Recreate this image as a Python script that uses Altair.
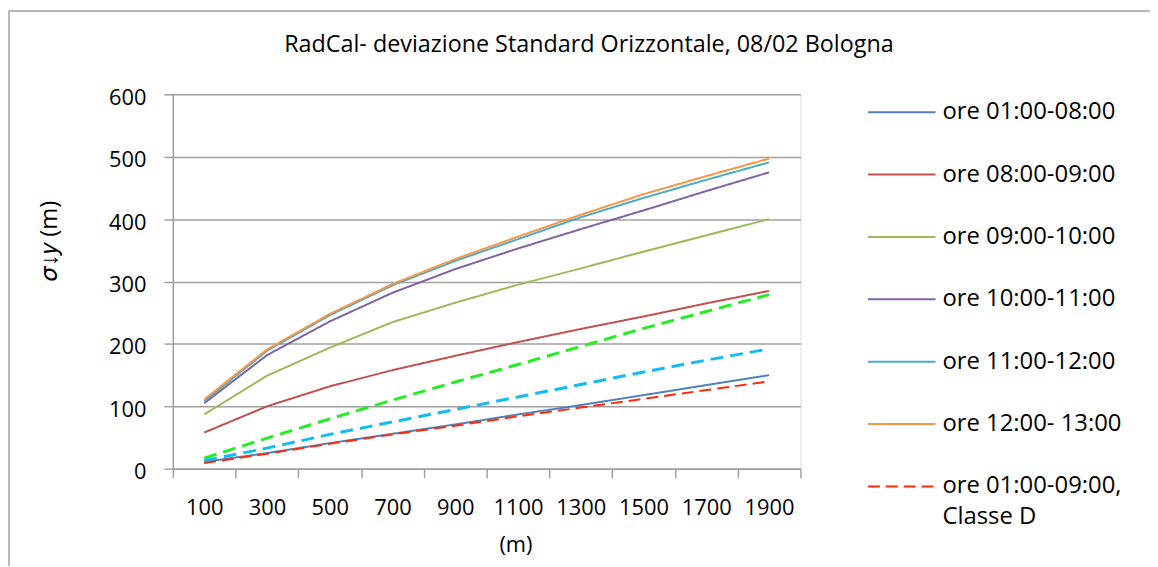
import altair as alt
import pandas as pd

# ---- data ----
distances = [100, 300, 500, 700, 900, 1100, 1300, 1500, 1700, 1900]

series_names = [
    "ore 01:00-08:00",
    "ore 08:00-09:00",
    "ore 09:00-10:00",
    "ore 10:00-11:00",
    "ore 11:00-12:00",
    "ore 12:00- 13:00",
    "ore 01:00-09:00, Classe D",
]
s_01_08 = [11, 25, 41, 56, 71, 87, 102, 118, 134, 150]
s_08_09 = [58, 100, 132, 158, 181, 203, 224, 244, 265, 285]
s_09_10 = [87, 149, 194, 235, 266, 295, 321, 348, 374, 400]
s_10_11 = [105, 182, 236, 282, 320, 353, 384, 414, 445, 475]
s_11_12 = [108, 189, 246, 294, 333, 368, 403, 434, 463, 491]
s_12_13 = [111, 191, 248, 296, 336, 372, 407, 440, 469, 497]
s_classe_d = [9, 24, 40, 55, 69, 84, 98, 112, 126, 140]

# dashed reference curves without legend entry
green_dashed = [17, 49, 80, 110, 139, 167, 196, 225, 252, 279]
cyan_dashed = [13, 33, 55, 75, 95, 115, 135, 155, 174, 192]

series_values = [s_01_08, s_08_09, s_09_10, s_10_11, s_11_12, s_12_13, s_classe_d]
series_colors = ["#4F81BD", "#C0504D", "#9BBB59", "#8064A2", "#4BACC6", "#F79646", "#FF2A0A"]

rows = []
for name, vals in zip(series_names, series_values):
    for d, v in zip(distances, vals):
        rows.append({"dist": d, "val": v, "series": name})
df_main = pd.DataFrame(rows)
df_green = pd.DataFrame({"dist": distances, "val": green_dashed})
df_cyan = pd.DataFrame({"dist": distances, "val": cyan_dashed})
df_frame = pd.DataFrame({"k": [0]})

FONT = "Open Sans"
GRAY = "#a0a0a0"

x_scale = alt.Scale(type="band", domain=distances, paddingInner=0, paddingOuter=0)

x_enc = alt.X(
    "dist:O",
    scale=x_scale,
    axis=alt.Axis(
        labelAngle=0,
        labelFont=FONT,
        labelFontSize=22,
        labelColor="#000000",
        labelPadding=20,
        tickSize=9,
        tickWidth=1.5,
        tickColor=GRAY,
        tickBand="extent",
        tickExtra=True,
        domainColor=GRAY,
        domainWidth=1.5,
        grid=False,
        title="(m)",
        titleFont=FONT,
        titleFontSize=22,
        titleFontWeight="normal",
        titleColor="#000000",
        titleX=345,
        titleY=76,
        titleAlign="center",
        titleBaseline="middle",
    ),
)

y_enc = alt.Y(
    "val:Q",
    scale=alt.Scale(domain=[0, 600], nice=False),
    axis=alt.Axis(
        values=[0, 100, 200, 300, 400, 500, 600],
        labelFont=FONT,
        labelFontSize=22,
        labelColor="#000000",
        labelPadding=18,
        labelOffset=3,
        tickSize=9,
        tickWidth=1.5,
        tickColor=GRAY,
        domainColor=GRAY,
        domainWidth=1.5,
        grid=True,
        gridColor=GRAY,
        gridWidth=1.5,
        title="𝜎↓𝑦 (m)",
        titleFont=FONT,
        titleFontSize=24,
        titleFontWeight="normal",
        titleColor="#000000",
        titleX=-124,
        titleY=147,
        titleAngle=-90,
        titleAlign="center",
        titleBaseline="middle",
    ),
)

legend = alt.Legend(
    orient="none",
    legendX=699,
    legendY=-17,
    padding=0,
    labelFont=FONT,
    labelFontSize=24,
    labelColor="#000000",
    labelLimit=400,
    labelOffset=6,
    labelBaseline="middle",
    labelExpr="datum.label === 'ore 01:00-09:00, Classe D' ? ['ore 01:00-09:00,', 'Classe D'] : datum.label",
    symbolType="stroke",
    symbolSize=4624,
    symbolStrokeWidth=2,
    rowPadding=15.8,
)

main = alt.Chart(df_main).mark_line().encode(
    x=x_enc,
    y=y_enc,
    color=alt.Color(
        "series:N",
        scale=alt.Scale(domain=series_names, range=series_colors),
        legend=legend,
        title=None,
    ),
    strokeDash=alt.StrokeDash(
        "series:N",
        scale=alt.Scale(domain=series_names, range=[[1, 0]] * 6 + [[12, 6]]),
        legend=legend,
        title=None,
    ),
    strokeWidth=alt.StrokeWidth(
        "series:N",
        scale=alt.Scale(domain=series_names, range=[2, 2, 2, 2, 2, 2, 3]),
        legend=None,
    ),
)

green = alt.Chart(df_green).mark_line(color="#22EE22", strokeWidth=3, strokeDash=[13, 7]).encode(
    x=alt.X("dist:O", scale=x_scale), y="val:Q"
)
cyan = alt.Chart(df_cyan).mark_line(color="#12BCF2", strokeWidth=3, strokeDash=[13, 7]).encode(
    x=alt.X("dist:O", scale=x_scale), y="val:Q"
)

frame = alt.Chart(df_frame).mark_rect(fillOpacity=0, stroke=GRAY, strokeWidth=1.5).encode(
    x=alt.value(-165), x2=alt.value(2000), y=alt.value(-84), y2=alt.value(2000)
)

chart = (
    alt.layer(main, green, cyan, frame)
    .properties(
        width=632,
        height=377,
        autosize=alt.AutoSizeParams(type="none"),
        padding={"left": 166, "top": 85, "right": 352, "bottom": 96},
        title=alt.TitleParams(
            "RadCal- deviazione Standard Orizzontale, 08/02 Bologna",
            font=FONT,
            fontSize=23.5,
            fontWeight="normal",
            color="#000000",
            anchor="middle",
            frame="group",
            dx=103,
            dy=66,
            offset=0,
            baseline="alphabetic",
        ),
    )
    .configure_view(strokeOpacity=0)
    .configure(style={"guide-label": {"lineHeight": 31}})
)

chart.save("out.html", embed_options={"renderer": "svg", "actions": False})
